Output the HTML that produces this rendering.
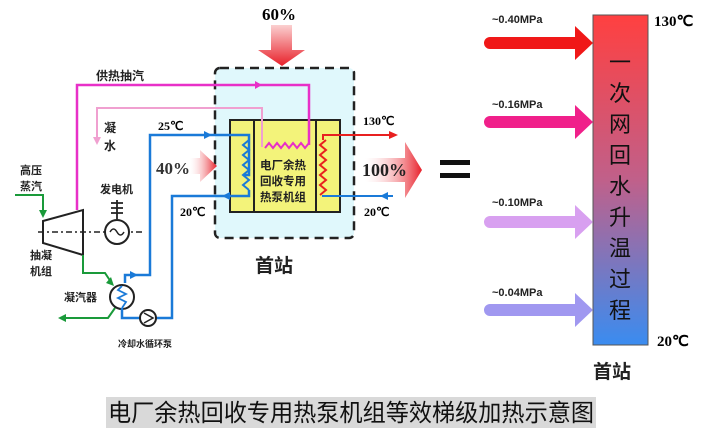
<!DOCTYPE html>
<html><head><meta charset="utf-8"><style>
html,body{margin:0;padding:0;background:#fff;}
svg{display:block;font-family:"Liberation Sans","Noto Sans CJK SC",sans-serif;}
</style></head><body>
<svg width="728" height="446" viewBox="0 0 728 446" xmlns="http://www.w3.org/2000/svg">
<defs>
<linearGradient id="bar" x1="0" y1="0" x2="0" y2="1">
<stop offset="0" stop-color="#ff4040"/><stop offset="0.5" stop-color="#c0608a"/><stop offset="1" stop-color="#3a8cf0"/></linearGradient>
<linearGradient id="rh" x1="0" y1="0" x2="1" y2="0"><stop offset="0" stop-color="#fff" stop-opacity="0.2"/><stop offset="1" stop-color="#e8202a"/></linearGradient>
<linearGradient id="rv" x1="0" y1="0" x2="0" y2="1"><stop offset="0" stop-color="#fbd0d0"/><stop offset="1" stop-color="#e8202a"/></linearGradient>
</defs>
<text x="262" y="20" font-family="Liberation Serif" font-weight="bold" font-size="17">60%</text>
<path d="M271 25 H292 V50 H305 L282 66 L258 50 H271 Z" fill="url(#rv)"/>
<rect x="215" y="68" width="139" height="170" rx="5" fill="#e0f8fc" stroke="#222" stroke-width="2.5" stroke-dasharray="9,6"/>
<rect x="230" y="120" width="110" height="92" fill="#f3f37a" stroke="#222" stroke-width="2"/>
<line x1="254" y1="120" x2="254" y2="212" stroke="#222" stroke-width="2"/>
<line x1="316" y1="120" x2="316" y2="212" stroke="#222" stroke-width="2"/>
<text font-size="11.5" font-weight="bold" fill="#222"><tspan x="260" y="169">电厂余热</tspan><tspan x="260" y="185">回收专用</tspan><tspan x="260" y="201">热泵机组</tspan></text>
<path d="M77 210 V85 H309 V145" fill="none" stroke="#e830c8" stroke-width="2.5"/>
<path d="M262 85 l-7 -4 v8 z" fill="#e830c8"/>
<polyline points="265,148 269,143 273,148 277,143 281,148 285,143 289,148 293,143 297,148 301,143 305,148 309,143" fill="none" stroke="#e830c8" stroke-width="2"/>
<path d="M97 140 V108 H262 V147" fill="none" stroke="#f0a0d0" stroke-width="2"/>
<path d="M97 145 l-4 -8 h8 z" fill="#f0a0d0"/>
<text x="96" y="80" font-size="12" font-weight="bold" fill="#222">供热抽汽</text>
<text x="104" y="132" font-size="12" font-weight="bold" fill="#222">凝</text>
<text x="104" y="150" font-size="12" font-weight="bold" fill="#222">水</text>
<path d="M125 283 V275 H150 V135 H249 V175 H243" fill="none" stroke="#1a7ad8" stroke-width="2.5"/>
<polyline points="249,140 243,145 249,150 243,155 249,160 243,165 249,170 243,175 249,180 243,185 249,190" fill="none" stroke="#1a7ad8" stroke-width="2"/>
<path d="M249 190 V196 H172 V318 H156" fill="none" stroke="#1a7ad8" stroke-width="2.5"/>
<path d="M212 135 l-8 -4 v8 z M222 196 l8 -4 v8 z M138 275 l-8 -4 v8 z" fill="#1a7ad8"/>
<text x="158" y="130" font-family="Liberation Serif" font-weight="bold" font-size="12">25℃</text>
<text x="180" y="216" font-family="Liberation Serif" font-weight="bold" font-size="12">20℃</text>
<polyline points="326,140 320,145 326,150 320,155 326,160 320,165 326,170 320,175 326,180 320,185 326,190 320,195" fill="none" stroke="#e82020" stroke-width="2"/>
<path d="M323 140 V135 H393" fill="none" stroke="#e82020" stroke-width="2"/>
<path d="M398 135 l-9 -4 v8 z" fill="#e82020"/>
<path d="M322 196 H393" fill="none" stroke="#1a7ad8" stroke-width="2"/>
<path d="M380 196 l8 -4 v8 z" fill="#1a7ad8"/>
<text x="363" y="125" font-family="Liberation Serif" font-weight="bold" font-size="12">130℃</text>
<text x="364" y="216" font-family="Liberation Serif" font-weight="bold" font-size="12">20℃</text>
<path d="M200 158 V150 L217 166 L200 182 V174 H190 V158 Z" fill="url(#rh)"/>
<text x="156" y="174" font-family="Liberation Serif" font-weight="bold" font-size="17" fill="#333">40%</text>
<path d="M365 158 H405 V142 L422 170 L405 198 V182 H365 Z" fill="url(#rh)"/>
<text x="362" y="176" font-family="Liberation Serif" font-weight="bold" font-size="18" fill="#222">100%</text>
<rect x="440" y="160" width="30" height="5" fill="#111"/><rect x="440" y="173" width="30" height="5" fill="#111"/>
<text x="255" y="272" font-size="19" font-weight="bold" fill="#222">首站</text>
<!-- turbine -->
<polygon points="43,221 83,210 83,255 43,243" fill="#fff" stroke="#222" stroke-width="2"/>
<line x1="38" y1="232" x2="142" y2="232" stroke="#222" stroke-width="1.5" stroke-dasharray="6,3,2,3"/>
<path d="M15 195 H43 V210" fill="none" stroke="#1a9a3a" stroke-width="2"/>
<path d="M43 218 l-4 -8 h8 z" fill="#1a9a3a"/>
<path d="M83 255 V273 H105 L111 282" fill="none" stroke="#1a9a3a" stroke-width="2"/>
<path d="M114 286 l-8 -3 l5 -6 z" fill="#1a9a3a"/>
<path d="M115 308 L108 318 H65" fill="none" stroke="#1a9a3a" stroke-width="2"/>
<path d="M58 318 l8 -4 v8 z" fill="#1a9a3a"/>
<text x="20" y="174" font-size="11" font-weight="bold" fill="#222">高压</text>
<text x="20" y="190" font-size="11" font-weight="bold" fill="#222">蒸汽</text>
<text x="30" y="259" font-size="11" font-weight="bold" fill="#222">抽凝</text>
<text x="30" y="275" font-size="11" font-weight="bold" fill="#222">机组</text>
<text x="100" y="193" font-size="11" font-weight="bold" fill="#222">发电机</text>
<path d="M117 200 V219 M111 203 H123 M111 208 H123 M111 213 H123" stroke="#222" stroke-width="1.8"/>
<circle cx="117" cy="232" r="12" fill="#fff" stroke="#222" stroke-width="2"/>
<path d="M110 232 q3.5 -6 7 0 t7 0" fill="none" stroke="#222" stroke-width="1.5"/>
<circle cx="122" cy="297" r="12" fill="#fff" stroke="#222" stroke-width="2"/>
<polyline points="122,286 118,290 126,294 118,298 126,302 122,308" fill="none" stroke="#1a7ad8" stroke-width="1.8"/>
<path d="M122 308 V318 H140" fill="none" stroke="#1a7ad8" stroke-width="2.5"/>
<text x="64" y="301" font-size="11" font-weight="bold" fill="#222">凝汽器</text>
<circle cx="148" cy="318" r="8" fill="#fff" stroke="#222" stroke-width="2"/>
<path d="M144 313 L153 318 L144 323" fill="none" stroke="#222" stroke-width="1.5"/>
<text x="118" y="347" font-size="9" font-weight="bold" fill="#222">冷却水循环泵</text>
<!-- right bar -->
<rect x="593" y="15" width="55" height="330" fill="url(#bar)" stroke="#555" stroke-width="1"/>
<g font-size="22" fill="#111" text-anchor="middle">
<text x="620" y="70">一</text><text x="620" y="101">次</text><text x="620" y="132">网</text><text x="620" y="163">回</text><text x="620" y="194">水</text><text x="620" y="225">升</text><text x="620" y="256">温</text><text x="620" y="287">过</text><text x="620" y="318">程</text>
</g>
<text x="654" y="26" font-family="Liberation Serif" font-weight="bold" font-size="15">130℃</text>
<text x="657" y="346" font-family="Liberation Serif" font-weight="bold" font-size="15">20℃</text>
<text x="593" y="378" font-size="19" font-weight="bold" fill="#222">首站</text>
<path d="M490 37 H575 V26 L593 43 L575 60 V49 H490 A6 6 0 0 1 490 37 Z" fill="#f01818"/>
<path d="M490 116 H575 V105 L593 122 L575 139 V128 H490 A6 6 0 0 1 490 116 Z" fill="#f0208a"/>
<path d="M490 216 H575 V205 L593 222 L575 239 V228 H490 A6 6 0 0 1 490 216 Z" fill="#d8a0f0"/>
<path d="M490 304 H575 V293 L593 310 L575 327 V316 H490 A6 6 0 0 1 490 304 Z" fill="#a098f0"/>
<g font-size="11" font-weight="bold" fill="#222">
<text x="492" y="23">~0.40MPa</text>
<text x="492" y="108">~0.16MPa</text>
<text x="492" y="206">~0.10MPa</text>
<text x="492" y="296">~0.04MPa</text>
</g>
<rect x="106" y="397" width="490" height="31" fill="#d9d9d9"/>
<text x="108" y="421" font-size="24" fill="#111" textLength="486" lengthAdjust="spacingAndGlyphs">电厂余热回收专用热泵机组等效梯级加热示意图</text>
</svg>
</body></html>
